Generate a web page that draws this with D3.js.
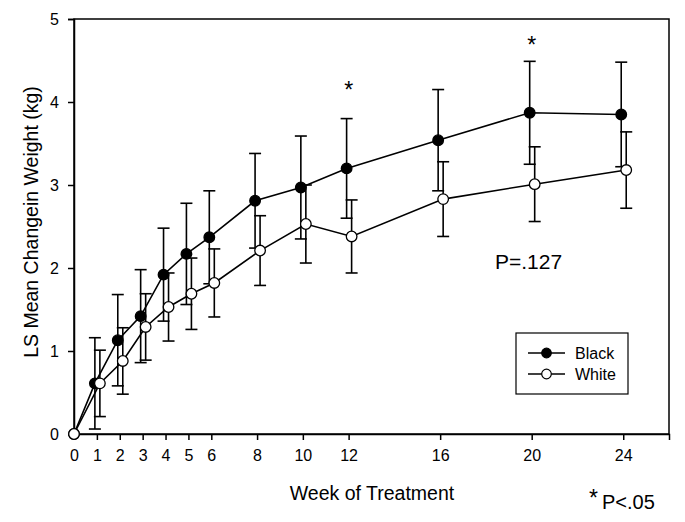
<!DOCTYPE html>
<html><head><meta charset="utf-8">
<script src="https://cdn.jsdelivr.net/npm/d3@7"></script>
<style>body{margin:0;background:#fff}svg{display:block}text{font-family:"Liberation Sans",Arial,sans-serif;fill:#000}</style>
</head><body><svg id="c" width="685" height="522"></svg>
<script>
const weeks   = [0, 1, 2, 3, 4, 5, 6, 8, 10, 12, 16, 20, 24];
const black   = [0, 0.61, 1.13, 1.42, 1.92, 2.17, 2.37, 2.81, 2.97, 3.20, 3.54, 3.87, 3.85];
const blackSE = [0, 0.55, 0.55, 0.56, 0.56, 0.61, 0.56, 0.57, 0.62, 0.60, 0.61, 0.62, 0.63];
const white   = [0, 0.61, 0.88, 1.29, 1.53, 1.69, 1.82, 2.21, 2.53, 2.38, 2.83, 3.01, 3.18];
const whiteSE = [0, 0.40, 0.40, 0.40, 0.41, 0.43, 0.41, 0.42, 0.47, 0.44, 0.45, 0.45, 0.46];
const yTicks  = [0, 1, 2, 3, 4, 5];
const sigWeeks = [12, 20];
const sigY     = [4.2, 4.75];
const seriesNames = ["Black", "White"];

const svg = d3.select("#c");
const L = 74, R = 669, T = 19, B = 434;
const x = d3.scaleLinear().domain([0, 26]).range([L, R]);
const y = d3.scaleLinear().domain([0, 5]).range([B, T]);

// frame
svg.append("rect").attr("x", L).attr("y", T).attr("width", R - L).attr("height", B - T)
  .attr("fill", "none").attr("stroke", "#000").attr("stroke-width", 1.5);

const xAxis = svg.append("g").attr("transform", `translate(0,${B})`)
  .call(d3.axisBottom(x).tickValues(weeks).tickSize(6).tickPadding(10).tickFormat(d3.format("d")));
const yAxis = svg.append("g").attr("transform", `translate(${L},0)`)
  .call(d3.axisLeft(y).tickValues(yTicks).tickSize(6).tickPadding(9).tickFormat(d3.format("d")));
[xAxis, yAxis].forEach(g => {
  g.select(".domain").attr("stroke-width", 1.5);
  g.selectAll(".tick line").attr("stroke-width", 1.5);
  g.selectAll(".tick text").attr("font-size", 16).attr("font-family", "Liberation Sans, Arial, sans-serif");
});

const series = [
  {name: seriesNames[0], v: black, se: blackSE, off: -2, fill: "#000"},
  {name: seriesNames[1], v: white, se: whiteSE, off: 3, fill: "#fff"}
];
const px = (s, i) => x(weeks[i]) + (weeks[i] === 0 ? 0 : s.off);

series.forEach(s => {
  const line = d3.line().x((d, i) => px(s, i)).y(d => y(d));
  svg.append("path").attr("d", line(s.v)).attr("fill", "none").attr("stroke", "#000").attr("stroke-width", 1.6);
});
series.forEach(s => {
  const g = svg.append("g").attr("stroke", "#000").attr("stroke-width", 1.6);
  s.v.forEach((d, i) => {
    if (s.se[i] <= 0) return;
    const cx = px(s, i), y1 = y(d + s.se[i]), y0 = y(d - s.se[i]);
    g.append("line").attr("x1", cx).attr("x2", cx).attr("y1", y1).attr("y2", y0);
    g.append("line").attr("x1", cx - 6).attr("x2", cx + 6).attr("y1", y1).attr("y2", y1);
    g.append("line").attr("x1", cx - 6).attr("x2", cx + 6).attr("y1", y0).attr("y2", y0);
  });
});
series.forEach(s => {
  svg.append("g").selectAll("circle").data(s.v).join("circle")
    .attr("cx", (d, i) => px(s, i)).attr("cy", d => y(d)).attr("r", 5.3)
    .attr("fill", s.fill).attr("stroke", "#000").attr("stroke-width", 1.3);
});

// significance stars
sigWeeks.forEach((w, i) => {
  svg.append("text").attr("x", x(w)).attr("y", y(sigY[i]) + 13).attr("text-anchor", "middle")
    .attr("font-size", 23).text("*");
});

svg.append("text").attr("x", 495).attr("y", 269).attr("font-size", 21).text("P=.127");

// legend
const lg = svg.append("g");
lg.append("rect").attr("x", 516).attr("y", 333).attr("width", 112).attr("height", 61)
  .attr("fill", "#fff").attr("stroke", "#000").attr("stroke-width", 1.2);
series.forEach((s, i) => {
  const yy = 353 + i * 21;
  lg.append("line").attr("x1", 528).attr("x2", 565).attr("y1", yy).attr("y2", yy).attr("stroke", "#000").attr("stroke-width", 1.5);
  lg.append("circle").attr("cx", 546.5).attr("cy", yy).attr("r", 4.8).attr("fill", s.fill).attr("stroke", "#000").attr("stroke-width", 1.2);
  lg.append("text").attr("x", 575).attr("y", yy + 6).attr("font-size", 16).text(s.name);
});

// axis titles
svg.append("text").attr("x", 372).attr("y", 500).attr("text-anchor", "middle").attr("font-size", 19.5).text("Week of Treatment");
svg.append("text").attr("transform", "translate(38,222) rotate(-90)").attr("text-anchor", "middle").attr("font-size", 19.5).text("LS Mean Changein Weight (kg)");
svg.append("text").attr("x", 589).attr("y", 506).attr("font-size", 23).text("*");
svg.append("text").attr("x", 602).attr("y", 509).attr("font-size", 20).text("P<.05");
</script></body></html>
